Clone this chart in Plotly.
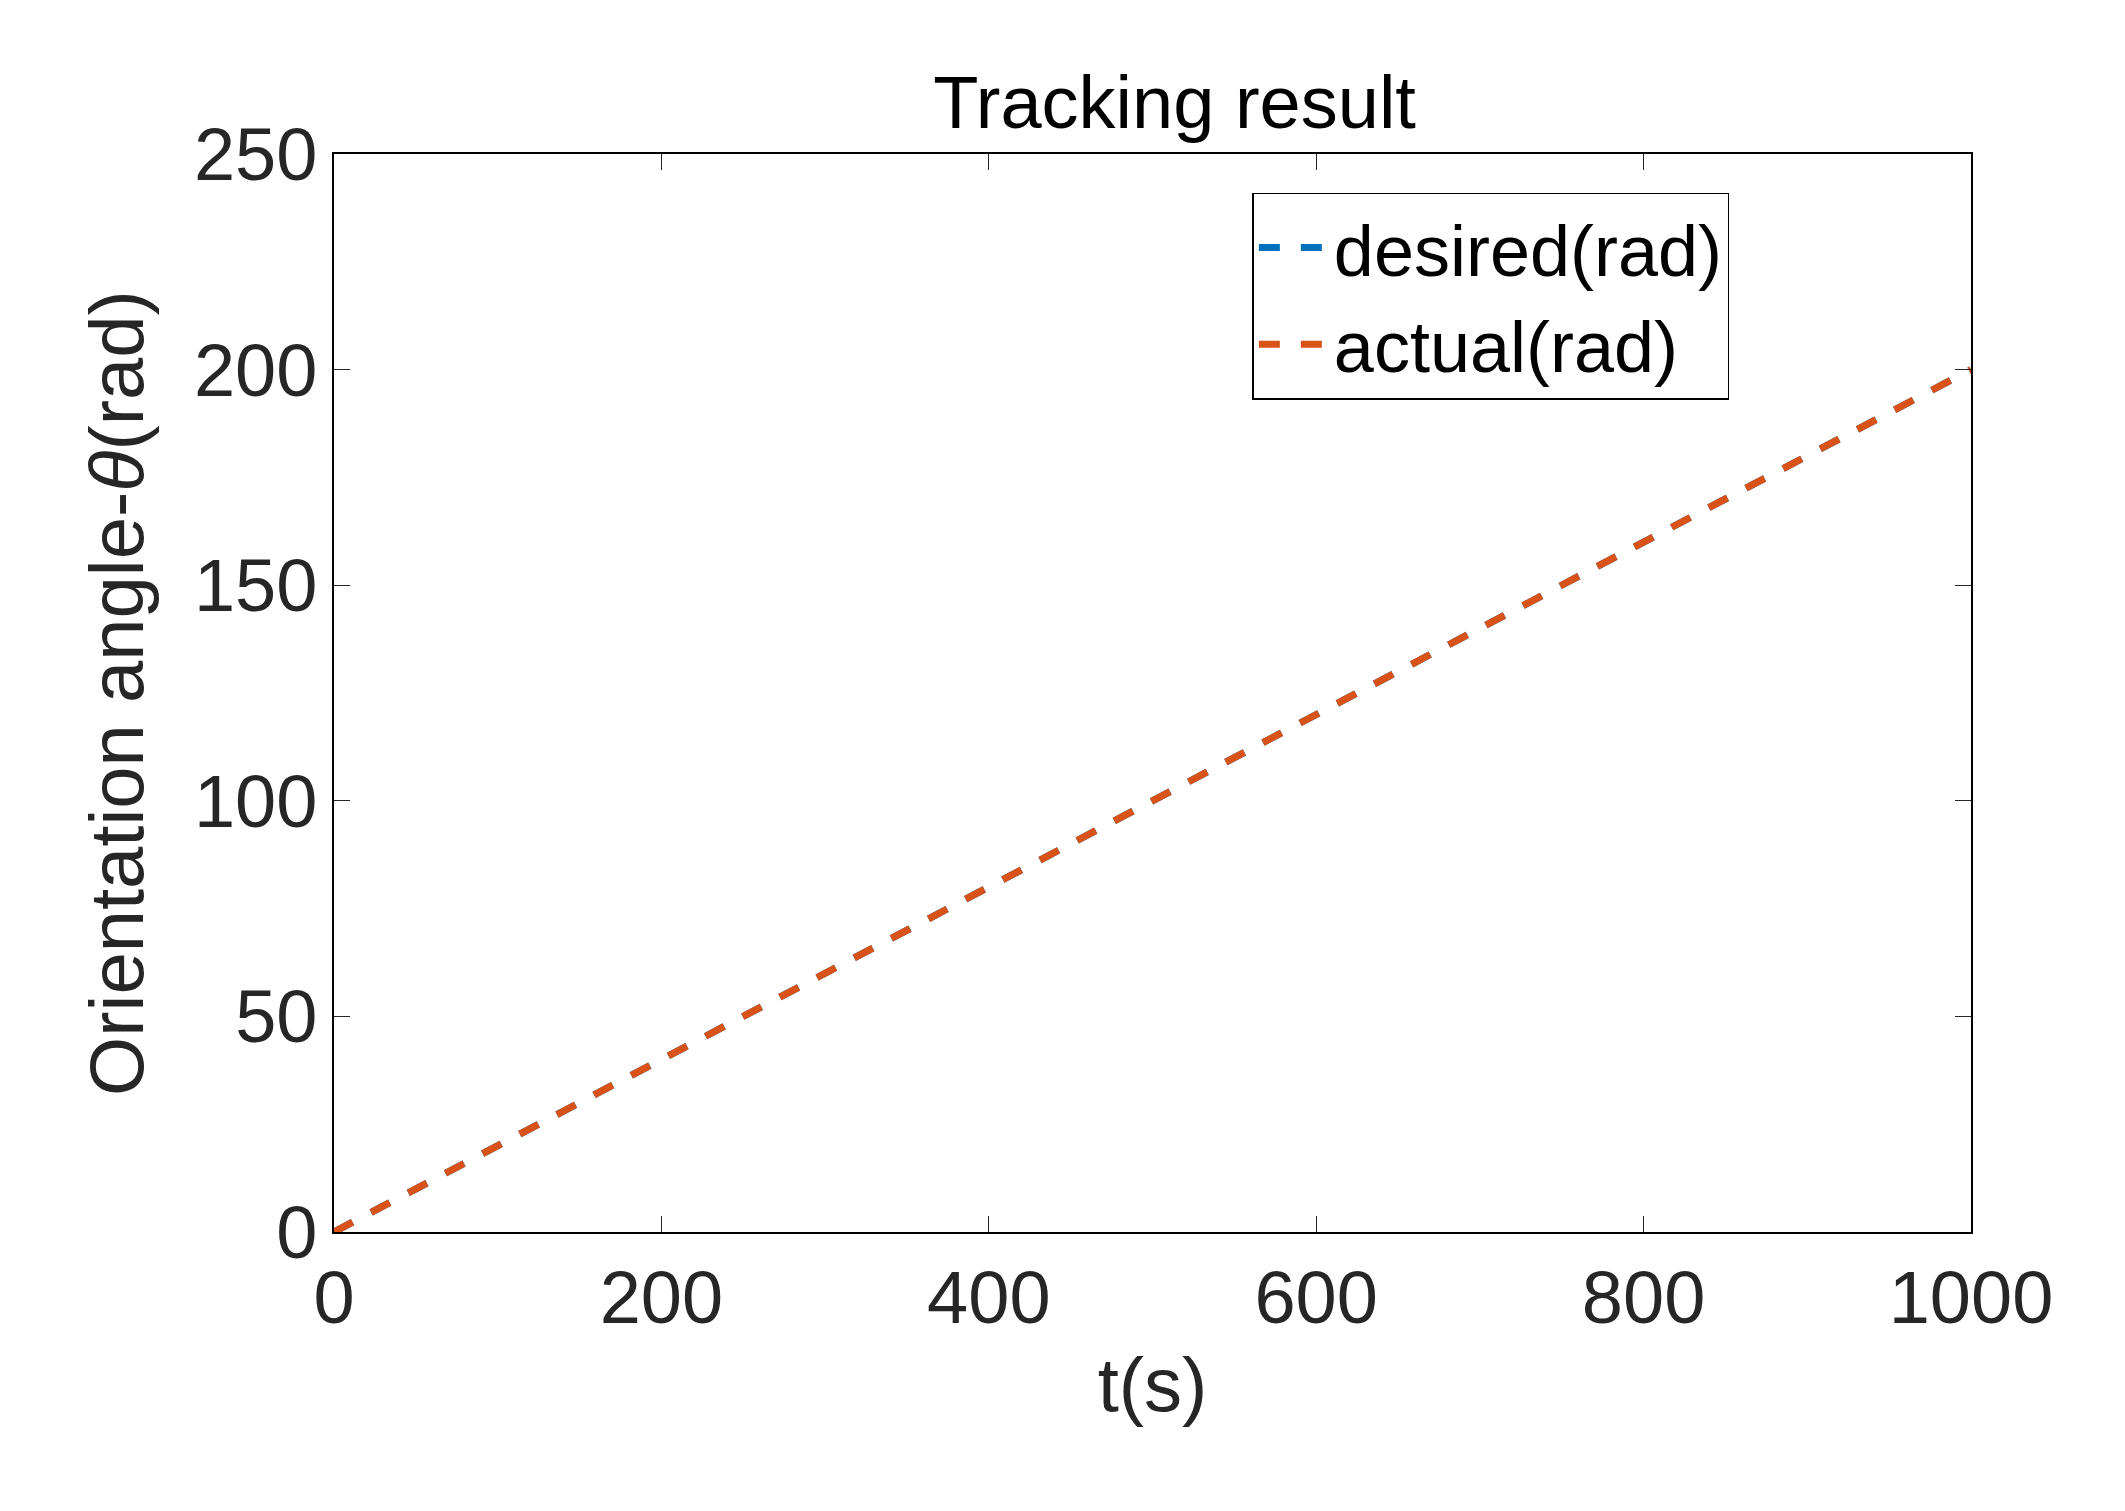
import plotly.graph_objects as go

t = [0, 100, 200, 300, 400, 500, 600, 700, 800, 900, 1000]
desired = [0, 20, 40, 60, 80, 100, 120, 140, 160, 180, 200]
actual = [0, 20, 40, 60, 80, 100, 120, 140, 160, 180, 200]

font = "Liberation Sans, Arial, sans-serif"

fig = go.Figure()
fig.add_trace(go.Scatter(x=t, y=desired, mode="lines", name="desired(rad)",
                         line=dict(color="#0072BD", width=7, dash="dash")))
fig.add_trace(go.Scatter(x=t, y=actual, mode="lines", name="actual(rad)",
                         line=dict(color="#D95319", width=7, dash="dash")))

axis = dict(showline=True, linecolor="black", linewidth=1.5, mirror="ticks",
            ticks="inside", ticklen=16, tickcolor="#262626", showgrid=False,
            zeroline=False, tickfont=dict(size=74, color="#262626", family=font))

fig.update_layout(
    width=2125, height=1511,
    plot_bgcolor="white", paper_bgcolor="white",
    margin=dict(l=326, r=162, t=146, b=287),
    title=dict(text="Tracking result", x=0.549, xanchor="center", y=0.955,
               font=dict(size=74, color="black", family=font)),
    xaxis=dict(axis, range=[0, 1000], dtick=200,
               title=dict(text="t(s)", standoff=20,
                          font=dict(size=76, color="#262626", family=font))),
    yaxis=dict(axis, range=[0, 250], dtick=50,
               title=dict(text="Orientation angle-<i>θ</i>(rad)", standoff=25,
                          font=dict(size=76, color="#262626", family=font))),
    legend=dict(x=0.561, y=0.964, xanchor="left", yanchor="top",
                bgcolor="white", bordercolor="black", borderwidth=1.5,
                itemwidth=70,
                font=dict(size=72, color="black", family=font)),
)

fig.write_html("out.html")
